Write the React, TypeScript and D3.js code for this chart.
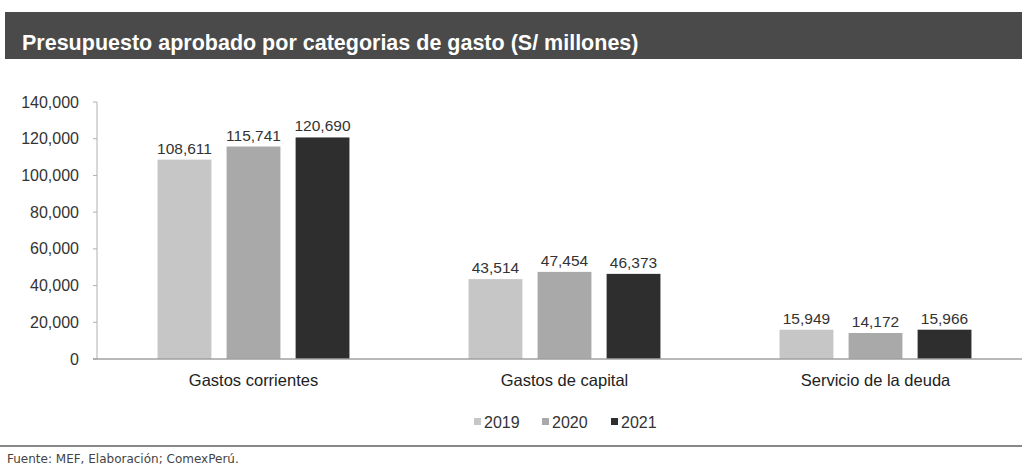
import React from "react";
import * as d3 from "d3";

const categories = ["Gastos corrientes", "Gastos de capital", "Servicio de la deuda"];
const years = ["2019", "2020", "2021"];
const values2019 = [108611, 43514, 15949];
const values2020 = [115741, 47454, 14172];
const values2021 = [120690, 46373, 15966];
const yTicks = [0, 20000, 40000, 60000, 80000, 100000, 120000, 140000];
const colors = ["#c6c6c6", "#a9a9a9", "#2e2e2e"];
const title = "Presupuesto aprobado por categorias de gasto (S/ millones)";
const source = "Fuente: MEF, Elaboración; ComexPerú.";

const W = 1022;
const H = 468;

export default function App() {
  const series = [values2019, values2020, values2021];
  const x0 = d3.scaleBand<string>().domain(categories).range([98, 1031]).paddingInner(0.383).paddingOuter(0.1915);
  const x1 = d3.scaleBand<string>().domain(years).range([0, x0.bandwidth()]).paddingInner(0.22);
  const y = d3.scaleLinear().domain([0, 140000]).range([359, 102]);
  const fmt = d3.format(",");
  const font = "'Liberation Sans', Arial, sans-serif";
  const axisX = 97;

  const legendX = [474, 542, 611];

  return (
    <svg width={W} height={H} style={{ position: "absolute", left: 0, top: 0, background: "#fff" }}>
      <rect x={0} y={0} width={W} height={H} fill="#fff" />
      {/* title bar */}
      <rect x={5} y={12} width={W - 5} height={47} fill="#4a4a4a" />
      <text x={22} y={50} fill="#fff" fontFamily={font} fontWeight="bold" fontSize={21.5}>
        {title}
      </text>

      {/* y axis */}
      <line x1={axisX} x2={axisX} y1={y(140000)} y2={y(0)} stroke="#b0b0b0" strokeWidth={1} />
      {yTicks.map((t) => (
        <g key={t}>
          <line x1={axisX - 4} x2={axisX} y1={y(t)} y2={y(t)} stroke="#b0b0b0" />
          <text x={79} y={y(t) + 5.5} textAnchor="end" fontFamily={font} fontSize={16} fill="#333">
            {fmt(t)}
          </text>
        </g>
      ))}

      {/* bars */}
      {categories.map((c, ci) => (
        <g key={c}>
          {years.map((yr, yi) => {
            const v = series[yi][ci];
            const bx = (x0(c) as number) + (x1(yr) as number);
            return (
              <g key={yr}>
                <rect x={bx} y={y(v)} width={x1.bandwidth()} height={y(0) - y(v)} fill={colors[yi]} />
                <text
                  x={bx + x1.bandwidth() / 2}
                  y={y(v) - 6}
                  textAnchor="middle"
                  fontFamily={font}
                  fontSize={15.5}
                  fill="#333"
                >
                  {fmt(v)}
                </text>
              </g>
            );
          })}
          <text
            x={(x0(c) as number) + x0.bandwidth() / 2}
            y={386}
            textAnchor="middle"
            fontFamily={font}
            fontSize={16.5}
            fill="#222"
          >
            {c}
          </text>
        </g>
      ))}

      {/* baseline */}
      <line x1={axisX - 4} x2={W} y1={y(0)} y2={y(0)} stroke="#a0a0a0" strokeWidth={1.5} />

      {/* legend */}
      {years.map((yr, i) => (
        <g key={yr}>
          <rect x={legendX[i]} y={418} width={7} height={7} fill={colors[i]} />
          <text x={legendX[i] + 10} y={428} fontFamily={font} fontSize={16} fill="#333">
            {yr}
          </text>
        </g>
      ))}

      {/* footer */}
      <line x1={0} x2={W} y1={446} y2={446} stroke="#888" strokeWidth={2} />
      <text x={7} y={463} fontFamily="'DejaVu Sans', sans-serif" fontSize={12} fill="#444">
        {source}
      </text>
    </svg>
  );
}
